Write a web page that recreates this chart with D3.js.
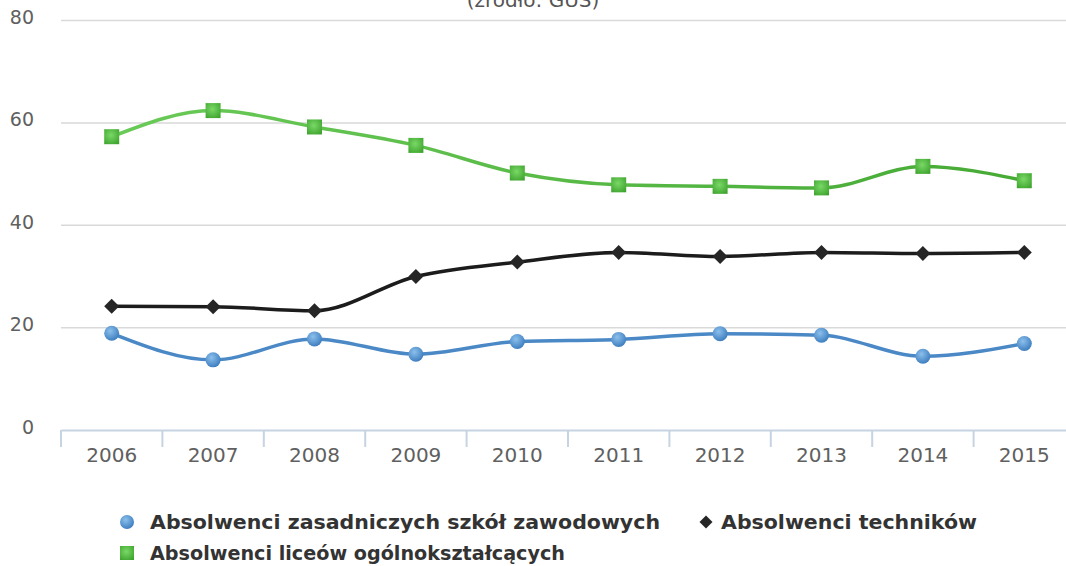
<!DOCTYPE html>
<html lang='pl'>
<head>
    <meta charset='utf-8'>
    <title>Absolwenci</title>
    <script src="https://d3js.org/d3.v7.min.js"></script>
    <style>
        body { margin: 0; background: #fff; }
        text { font-family: "DejaVu Sans", Verdana, sans-serif; }
    </style>
</head>
<body>
    <div id='chart'></div>
    <script>
        const years = ['2006','2007','2008','2009','2010','2011','2012','2013','2014','2015'];
        const zawodowe = [18.9, 13.7, 17.8, 14.8, 17.3, 17.7, 18.8, 18.5, 14.4, 16.9];
        const technika = [24.2, 24.1, 23.3, 30.0, 32.8, 34.7, 33.9, 34.7, 34.5, 34.7];
        const licea = [57.3, 62.4, 59.2, 55.6, 50.2, 47.9, 47.6, 47.3, 51.5, 48.7];
        const yTicks = [0, 20, 40, 60, 80];

        let size = {width:1066, height:566}
        let plot = {left:61, right:1075, top:20.5, bottom:430}

        let svg = d3.select("#chart")
                    .append("svg")
                        .attr("width",size.width)
                        .attr("height",size.height);

        let defs = svg.append("defs");
        let blueGrad = defs.append("radialGradient").attr("id","gBlue")
            .attr("cx","40%").attr("cy","35%").attr("r","65%");
        blueGrad.append("stop").attr("offset","0%").attr("stop-color","#8cc0ec");
        blueGrad.append("stop").attr("offset","100%").attr("stop-color","#3f7fc0");
        let greenGrad = defs.append("radialGradient").attr("id","gGreen")
            .attr("cx","45%").attr("cy","40%").attr("r","70%");
        greenGrad.append("stop").attr("offset","0%").attr("stop-color","#7ad867");
        greenGrad.append("stop").attr("offset","100%").attr("stop-color","#3ea42e");

        let x = d3.scaleBand().domain(years).range([plot.left, plot.right]);
        let y = d3.scaleLinear().domain([0,80]).range([plot.bottom, plot.top]);
        let cx = d => x(d) + x.bandwidth()/2;

        // title (cut off at the top, as in the source)
        svg.append("text")
            .attr("x", 533).attr("y", 7)
            .attr("text-anchor","middle")
            .style("font-size","20px")
            .attr("fill","#555")
            .text("(źródło: GUS)");

        // gridlines
        svg.append("g")
            .selectAll("line")
            .data(yTicks.filter(t => t > 0))
            .enter()
            .append("line")
                .attr("x1", plot.left).attr("x2", size.width)
                .attr("y1", d => y(d)).attr("y2", d => y(d))
                .attr("stroke","#d9d9d9").attr("stroke-width",1.5);

        // y labels
        svg.append("g")
            .selectAll("text")
            .data(yTicks)
            .enter()
            .append("text")
                .attr("x", 34)
                .attr("y", d => y(d) + 3.5)
                .attr("text-anchor","end")
                .style("font-size","19px")
                .attr("fill","#606060")
                .text(d => d);

        // x axis
        let xAxis = svg.append("g")
            .attr("transform",`translate(0,${plot.bottom})`)
            .call(d3.axisBottom(x).tickSize(0).tickPadding(18));
        xAxis.select(".domain").attr("stroke","#c6d4e2").attr("stroke-width",2);
        xAxis.selectAll("text")
            .style("font-size","20px")
            .attr("fill","#606060")
            .style("font-family",'"DejaVu Sans", Verdana, sans-serif');
        xAxis.append("g")
            .selectAll("line")
            .data(years)
            .enter()
            .append("line")
                .attr("x1", d => x(d)).attr("x2", d => x(d))
                .attr("y1", 0).attr("y2", 17)
                .attr("stroke","#c6d4e2").attr("stroke-width",2);

        let line = d3.line()
            .x((d,i) => cx(years[i]))
            .y(d => y(d))
            .curve(d3.curveMonotoneX);

        // lines
        let lineGrad = defs.append("linearGradient").attr("id","lGreen")
            .attr("gradientUnits","userSpaceOnUse")
            .attr("x1", plot.left).attr("x2", plot.right).attr("y1",0).attr("y2",0);
        lineGrad.append("stop").attr("offset","0%").attr("stop-color","#6ccc5a");
        lineGrad.append("stop").attr("offset","100%").attr("stop-color","#45a833");

        svg.append("path").datum(licea)
            .attr("d", line).attr("fill","none")
            .attr("stroke","url(#lGreen)").attr("stroke-width",3.5);
        svg.append("path").datum(technika)
            .attr("d", line).attr("fill","none")
            .attr("stroke","#1c1c1c").attr("stroke-width",3.5);
        svg.append("path").datum(zawodowe)
            .attr("d", line).attr("fill","none")
            .attr("stroke","#4a88c6").attr("stroke-width",3.5);

        // markers
        svg.append("g").selectAll("rect")
            .data(licea).enter()
            .append("rect")
                .attr("x",(d,i) => cx(years[i]) - 7.5)
                .attr("y", d => y(d) - 7.5)
                .attr("width",15).attr("height",15)
                .attr("fill","url(#gGreen)");

        svg.append("g").selectAll("path")
            .data(technika).enter()
            .append("path")
                .attr("transform",(d,i) => `translate(${cx(years[i])},${y(d)})`)
                .attr("d","M0,-7.5L7.5,0L0,7.5L-7.5,0Z")
                .attr("fill","#262626");

        svg.append("g").selectAll("circle")
            .data(zawodowe).enter()
            .append("circle")
                .attr("cx",(d,i) => cx(years[i]))
                .attr("cy", d => y(d))
                .attr("r", 7.5)
                .attr("fill","url(#gBlue)");

        // legend
        let legend = svg.append("g");
        let items = [
            {name:'Absolwenci zasadniczych szkół zawodowych', sx:127, sy:522, tx:150, w:510, shape:'circle'},
            {name:'Absolwenci techników', sx:706, sy:522, tx:721, w:256, shape:'diamond'},
            {name:'Absolwenci liceów ogólnokształcących', sx:127, sy:553, tx:150, w:415, shape:'square'}
        ];
        items.forEach(it => {
            if(it.shape == 'circle'){
                legend.append("circle").attr("cx",it.sx).attr("cy",it.sy).attr("r",7)
                    .attr("fill","url(#gBlue)");
            } else if(it.shape == 'diamond'){
                legend.append("path").attr("transform",`translate(${it.sx},${it.sy})`)
                    .attr("d","M0,-6.5L6.5,0L0,6.5L-6.5,0Z").attr("fill","#262626");
            } else {
                legend.append("rect").attr("x",it.sx-7).attr("y",it.sy-7)
                    .attr("width",14).attr("height",14).attr("fill","url(#gGreen)");
            }
            legend.append("text")
                .attr("x", it.tx).attr("y", it.sy + 7)
                .style("font-size","19px")
                .style("font-weight","bold")
                .attr("fill","#333")
                .attr("textLength", it.w)
                .attr("lengthAdjust","spacingAndGlyphs")
                .text(it.name);
        });
    </script>
</body>
</html>
